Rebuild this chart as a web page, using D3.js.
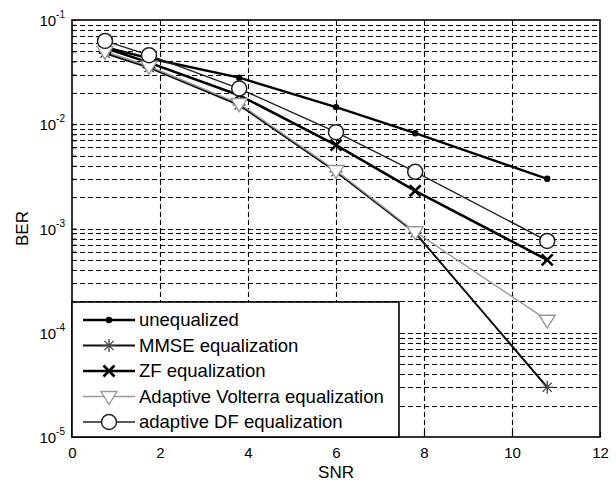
<!DOCTYPE html>
<html>
<head>
<meta charset="utf-8">
<script src="https://cdn.jsdelivr.net/npm/d3@7"></script>
<style>
body{margin:0;background:#fff;}
text{font-family:"Liberation Sans",Arial,sans-serif;fill:#000;}
</style>
</head>
<body>
<div class="chart"></div>
<script>
// values
var snr = [0.75, 1.75, 3.8, 6.0, 7.8, 10.8];
var berUnequalized = [0.055, 0.043, 0.028, 0.0146, 0.0082, 0.0030];
var berMMSE = [0.048, 0.035, 0.0153, 0.0035, 0.00091, 0.000030];
var berZF = [0.054, 0.039, 0.019, 0.0063, 0.0023, 0.00050];
var berVolterra = [0.050, 0.036, 0.0158, 0.0036, 0.00093, 0.000132];
var berDF = [0.063, 0.046, 0.022, 0.0084, 0.0035, 0.00076];
var seriesNames = ["unequalized", "MMSE equalization", "ZF equalization", "Adaptive Volterra equalization", "adaptive DF equalization"];
var xTicks = [0, 2, 4, 6, 8, 10, 12];
var yExps = [-1, -2, -3, -4, -5];

var W = 616, H = 482;
var pLeft = 72, pRight = 600, pTop = 20, pBottom = 437;

var svg = d3.select(".chart").append("svg").attr("width", W).attr("height", H);

var x = d3.scaleLinear().domain([0, 12]).range([pLeft, pRight]);
var y = d3.scaleLog().domain([1e-5, 1e-1]).range([pBottom, pTop]);

// grid
var minor = [];
for (var e = -5; e < -1; e++) {
    for (var k = 2; k <= 9; k++) minor.push(k * Math.pow(10, e));
}
var majorY = yExps.map(function(p){ return Math.pow(10, p); }).filter(function(v){ return v > 1e-5 && v < 1e-1; });
var grid = svg.append("g").attr("stroke", "#000").attr("stroke-width", 1.1).attr("stroke-dasharray", "5,3");
grid.selectAll("line.h").data(minor.concat(majorY)).enter().append("line")
    .attr("x1", pLeft).attr("x2", pRight)
    .attr("y1", function(d){ return Math.round(y(d)) + 0.5; })
    .attr("y2", function(d){ return Math.round(y(d)) + 0.5; });
grid.selectAll("line.v").data(xTicks.slice(1, -1)).enter().append("line")
    .attr("y1", pTop).attr("y2", pBottom)
    .attr("x1", function(d){ return Math.round(x(d)) + 0.5; })
    .attr("x2", function(d){ return Math.round(x(d)) + 0.5; });

// axes with inside ticks
var xAxis = d3.axisBottom(x).tickValues(xTicks).tickSize(-5).tickPadding(10).tickFormat(d3.format("d"));
var gx = svg.append("g").attr("transform", "translate(0," + pBottom + ")").call(xAxis);
gx.select(".domain").remove();
gx.selectAll("line").attr("stroke-width", 1.2);
gx.selectAll("text").attr("font-size", 15).attr("font-family", "Liberation Sans, Arial, sans-serif");

var yAxis = d3.axisLeft(y).tickValues(minor.concat(yExps.map(function(p){ return Math.pow(10, p); })))
    .tickSize(-4).tickFormat("");
var gy = svg.append("g").attr("transform", "translate(" + pLeft + ",0)").call(yAxis);
gy.select(".domain").remove();
gy.selectAll("line").attr("stroke-width", 1);

// y tick labels 10^k
var ylab = svg.append("g").selectAll("text").data(yExps).enter().append("text")
    .attr("x", pLeft - 7)
    .attr("y", function(d){ return y(Math.pow(10, d)) + 6; })
    .attr("text-anchor", "end")
    .attr("font-size", 15);
ylab.append("tspan").text("10");
ylab.append("tspan").attr("dy", -8).attr("font-size", 10).text(function(d){ return d; });

// frame
svg.append("rect").attr("x", pLeft).attr("y", pTop).attr("width", pRight - pLeft).attr("height", pBottom - pTop)
    .attr("fill", "none").attr("stroke", "#000").attr("stroke-width", 1.6);

svg.append("text").attr("x", (pLeft + pRight) / 2).attr("y", 478).attr("text-anchor", "middle")
    .attr("font-size", 17).text("SNR");
svg.append("text").attr("transform", "translate(28," + ((pTop + pBottom) / 2) + ") rotate(-90)")
    .attr("text-anchor", "middle").attr("font-size", 17).text("BER");

// markers
var drawMarker = function(g, kind, cx, cy, color){
    if (kind == "dot") {
        g.append("circle").attr("cx", cx).attr("cy", cy).attr("r", 3.2).attr("fill", color);
    } else if (kind == "star") {
        [0, 45, 90, 135].forEach(function(a){
            var r = 6.5, t = a * Math.PI / 180;
            g.append("line").attr("x1", cx - r * Math.cos(t)).attr("y1", cy - r * Math.sin(t))
                .attr("x2", cx + r * Math.cos(t)).attr("y2", cy + r * Math.sin(t))
                .attr("stroke", color).attr("stroke-width", 1.3);
        });
    } else if (kind == "x") {
        var s = 5.5;
        g.append("path").attr("d", "M" + (cx - s) + "," + (cy - s) + "L" + (cx + s) + "," + (cy + s) +
            "M" + (cx - s) + "," + (cy + s) + "L" + (cx + s) + "," + (cy - s))
            .attr("stroke", color).attr("stroke-width", 2.6);
    } else if (kind == "tri") {
        var a = 8;
        g.append("path").attr("d", "M" + (cx - a) + "," + (cy - 5) + "L" + (cx + a) + "," + (cy - 5) + "L" + cx + "," + (cy + 8) + "Z")
            .attr("fill", "#fff").attr("stroke", color).attr("stroke-width", 1.4);
    } else if (kind == "circle") {
        g.append("circle").attr("cx", cx).attr("cy", cy).attr("r", 7.5)
            .attr("fill", "#fff").attr("stroke", color).attr("stroke-width", 1.5);
    }
};

var series = [
    {name: seriesNames[0], values: berUnequalized, color: "#000", width: 2.4, marker: "dot"},
    {name: seriesNames[1], values: berMMSE, color: "#111", width: 2, marker: "star"},
    {name: seriesNames[2], values: berZF, color: "#000", width: 2.6, marker: "x"},
    {name: seriesNames[3], values: berVolterra, color: "#999", width: 1.4, marker: "tri"},
    {name: seriesNames[4], values: berDF, color: "#222", width: 1.4, marker: "circle"}
];

var line = d3.line().x(function(d){ return x(d[0]); }).y(function(d){ return y(d[1]); });
var plot = svg.append("g");
series.forEach(function(s){
    var pts = d3.zip(snr, s.values);
    plot.append("path").attr("d", line(pts)).attr("fill", "none")
        .attr("stroke", s.color).attr("stroke-width", s.width);
});
series.forEach(function(s){
    var g = plot.append("g");
    d3.zip(snr, s.values).forEach(function(p){
        drawMarker(g, s.marker, x(p[0]), y(p[1]), s.marker == "star" ? "#444" : s.color);
    });
});

// legend
var lg = svg.append("g");
lg.append("rect").attr("x", pLeft).attr("y", 302).attr("width", 399 - pLeft).attr("height", pBottom - 302)
    .attr("fill", "#fff").attr("stroke", "#000").attr("stroke-width", 1.6);
series.forEach(function(s, i){
    var cy = 320 + i * 25.5;
    lg.append("line").attr("x1", 83).attr("x2", 135).attr("y1", cy).attr("y2", cy)
        .attr("stroke", s.color).attr("stroke-width", s.width);
    drawMarker(lg, s.marker, 109, cy, s.marker == "star" ? "#444" : s.color);
    lg.append("text").attr("x", 139).attr("y", cy + 6).attr("font-size", 18.5).text(s.name);
});
</script>
</body>
</html>
